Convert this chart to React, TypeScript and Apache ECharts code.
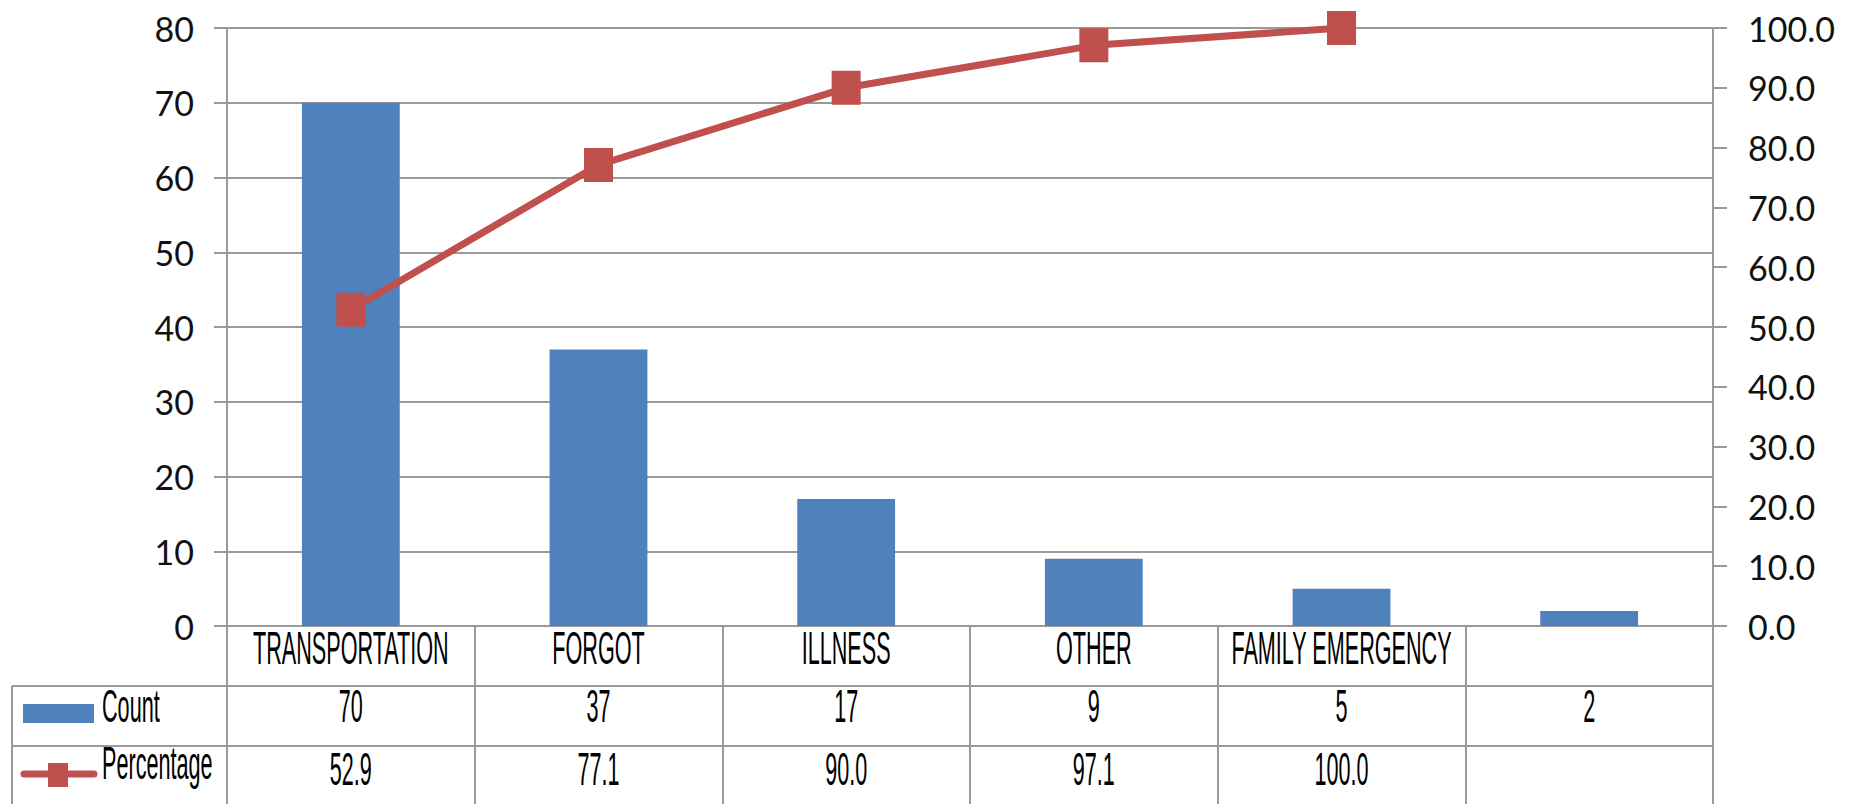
import React, { useEffect, useRef } from 'react';
import * as echarts from 'echarts';

// Pareto data: absence reasons, counts and cumulative percentage
const categories = ['TRANSPORTATION', 'FORGOT', 'ILLNESS', 'OTHER', 'FAMILY EMERGENCY', ''];
const counts = [70, 37, 17, 9, 5, 2];
const percentages: (number | null)[] = [52.9, 77.1, 90.0, 97.1, 100.0, null];
const seriesNames = ['Count', 'Percentage'];

// Axis ranges
const countAxis = { min: 0, max: 80, interval: 10 };
const percentAxis = { min: 0, max: 100, interval: 10 };

const BAR_COLOR = '#4F81BD';
const LINE_COLOR = '#C0504D';
const GRID_COLOR = '#9a9a9a';
const AXIS_FONT = 'Lato, "Open Sans", sans-serif';
const TABLE_FONT = '"Liberation Sans", Arial, sans-serif';

const W = 1852;
const H = 804;
const GRID = { left: 227, right: 139, top: 28, bottom: 178 };

// Data-table geometry (rows under the plot)
const TABLE = {
  leftEdge: 12,
  countRowTop: 686,
  percentRowTop: 746,
  catTextY: 648,
  countTextY: 706,
  percentTextY: 769,
  fontSize: 47,
  squeeze: 0.46,
};

export default function App() {
  const ref = useRef<HTMLDivElement>(null);

  useEffect(() => {
    if (!ref.current) return;
    const chart = echarts.init(ref.current, undefined, { renderer: 'svg' });

    chart.setOption({
      animation: false,
      backgroundColor: '#ffffff',
      grid: { ...GRID, containLabel: false },
      xAxis: {
        type: 'category',
        data: categories,
        boundaryGap: true,
        axisLine: { show: true, lineStyle: { color: GRID_COLOR, width: 2 } },
        axisTick: {
          show: true,
          alignWithLabel: false,
          length: GRID.bottom + 2,
          lineStyle: { color: GRID_COLOR, width: 2 },
        },
        axisLabel: { show: false },
      },
      yAxis: [
        {
          type: 'value',
          position: 'left',
          ...countAxis,
          axisLine: { show: true, lineStyle: { color: GRID_COLOR, width: 2 } },
          axisTick: { show: true, length: 13, lineStyle: { color: GRID_COLOR, width: 2 } },
          splitLine: { show: true, lineStyle: { color: GRID_COLOR, width: 2 } },
          axisLabel: {
            margin: 33,
            fontFamily: AXIS_FONT,
            fontSize: 34,
            color: '#111',
          },
        },
        {
          type: 'value',
          position: 'right',
          ...percentAxis,
          axisLine: { show: true, lineStyle: { color: GRID_COLOR, width: 2 } },
          axisTick: { show: true, length: 14, lineStyle: { color: GRID_COLOR, width: 2 } },
          splitLine: { show: false },
          axisLabel: {
            margin: 35,
            fontFamily: AXIS_FONT,
            fontSize: 34,
            color: '#111',
            formatter: (v: number) => v.toFixed(1),
          },
        },
      ],
      series: [
        {
          name: seriesNames[0],
          type: 'bar',
          yAxisIndex: 0,
          data: counts,
          barWidth: '39.5%',
          itemStyle: { color: BAR_COLOR },
          z: 2,
        },
        {
          name: seriesNames[1],
          type: 'line',
          yAxisIndex: 1,
          data: percentages,
          connectNulls: false,
          symbol: 'rect',
          symbolSize: [29, 34],
          lineStyle: { color: LINE_COLOR, width: 7 },
          itemStyle: { color: LINE_COLOR },
          z: 3,
        },
      ],
    });

    // Data table beneath the plot, placed on the category axis positions
    const centers = categories.map((_, i) => chart.convertToPixel({ xAxisIndex: 0 }, i) as number);
    const rightEdge = W - GRID.right;

    const cellText = (text: string, x: number, y: number, align = 'center') => ({
      type: 'text',
      x,
      y,
      scaleX: TABLE.squeeze,
      silent: true,
      style: {
        text,
        fontFamily: TABLE_FONT,
        fontSize: TABLE.fontSize,
        fill: '#000',
        align,
        verticalAlign: 'middle',
      },
    });

    const gridLine = (x1: number, y1: number, x2: number, y2: number) => ({
      type: 'line',
      silent: true,
      shape: { x1, y1, x2, y2 },
      style: { stroke: GRID_COLOR, lineWidth: 2 },
    });

    const graphics: any[] = [
      gridLine(TABLE.leftEdge, TABLE.countRowTop, rightEdge, TABLE.countRowTop),
      gridLine(TABLE.leftEdge, TABLE.percentRowTop, rightEdge, TABLE.percentRowTop),
      gridLine(TABLE.leftEdge, TABLE.countRowTop, TABLE.leftEdge, H),
      // legend keys
      {
        type: 'rect',
        silent: true,
        shape: { x: 23, y: 704, width: 71, height: 19 },
        style: { fill: BAR_COLOR },
      },
      {
        type: 'line',
        silent: true,
        shape: { x1: 24, y1: 774, x2: 94, y2: 774 },
        style: { stroke: LINE_COLOR, lineWidth: 7, lineCap: 'round' },
      },
      {
        type: 'rect',
        silent: true,
        shape: { x: 48, y: 763, width: 20, height: 24 },
        style: { fill: LINE_COLOR },
      },
      cellText(seriesNames[0], 102, 706, 'left'),
      cellText(seriesNames[1], 102, 763, 'left'),
    ];

    categories.forEach((c, i) => {
      if (c) graphics.push(cellText(c, centers[i], TABLE.catTextY));
      graphics.push(cellText(String(counts[i]), centers[i], TABLE.countTextY));
      const p = percentages[i];
      if (p !== null) graphics.push(cellText(p.toFixed(1), centers[i], TABLE.percentTextY));
    });

    chart.setOption({ graphic: graphics });

    return () => chart.dispose();
  }, []);

  return (
    <div
      ref={ref}
      style={{ position: 'fixed', left: 0, top: 0, width: W, height: H, background: '#fff' }}
    />
  );
}
